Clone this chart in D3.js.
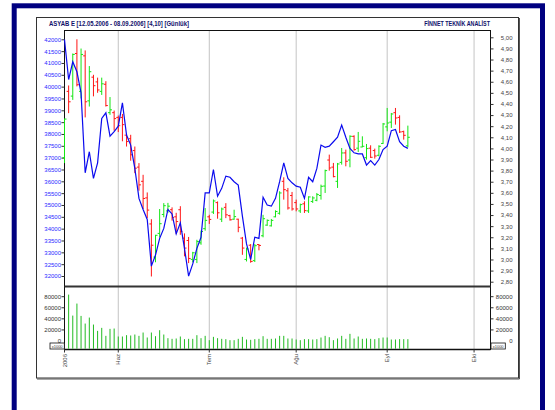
<!DOCTYPE html>
<html>
<head>
<meta charset="utf-8">
<script src="https://cdn.jsdelivr.net/npm/d3@7"></script>
<style>
  body { margin: 0; background: #fff; }
  svg { display: block; font-family: "Liberation Sans", Arial, sans-serif; }
</style>
</head>
<body>
<svg id="chart"></svg>
<script>
// daily bars, 12.05.2006 - 08.09.2006 (trading days only)
const highs = [38650, 40050, 41400, 42000, 41610, 41530, 40870, 40500, 40380, 40380,
  40230, 39560, 38990, 38780, 38845, 38000, 37965, 37470, 36770, 36275,
  35530, 34400, 33740, 34830, 35080, 35090, 34900, 34670, 34950, 33800,
  33650, 33020, 33530, 33920, 34870, 34585, 35233, 35150, 34890, 35078,
  34585, 34800, 34420, 33650, 33200, 33350, 33350, 33350, 34585, 34390,
  34410, 34775, 35580, 36170, 35720, 35551, 35227, 35058, 35157, 35368,
  35368, 35508, 35860, 36494, 37128, 36776, 36776, 37409, 37339, 37944,
  37944, 38085, 37902, 37578, 37522, 37381, 37522, 38465, 39099, 38888,
  39099, 38789, 38141, 38353];
const lows = [36770, 38880, 39440, 40010, 39500, 38700, 39160, 39590, 39740, 39650,
  39160, 38810, 38140, 38080, 37691, 37470, 36870, 36345, 35605, 34830,
  34450, 31980, 32580, 33630, 34480, 34670, 34340, 33775, 33740, 32830,
  32545, 32580, 32545, 33320, 33915, 34200, 34620, 34420, 34280, 34445,
  34340, 34375, 33850, 32895, 32615, 32560, 32590, 33085, 33635, 34120,
  34090, 34480, 34593, 35227, 34805, 34762, 34734, 34664, 34664, 34664,
  35086, 35157, 35227, 35508, 36452, 36170, 35720, 36705, 36635, 36593,
  37297, 37240, 37437, 36916, 36987, 36959, 37057, 37578, 38113, 38254,
  38395, 38043, 37761, 37437];
const opens = [37000, 39800, 39600, 41400, 39800, 41300, 39400, 40400, 40200, 39800,
  40100, 38900, 38900, 38700, 38700, 37950, 37800, 37300, 36600, 36000,
  35300, 34200, 32800, 33800, 34600, 34750, 34800, 34500, 34800, 33600,
  33500, 32700, 32700, 33400, 34000, 34500, 34700, 35100, 34400, 34900,
  34550, 34400, 34400, 33600, 32700, 33300, 32650, 33330, 33700, 34150,
  34120, 34500, 34650, 36000, 35600, 35400, 35100, 34750, 35050, 34750,
  35150, 35200, 35400, 35800, 36900, 36600, 36000, 36800, 37200, 36900,
  37900, 37400, 37450, 37000, 37400, 37300, 37100, 37600, 38300, 38500,
  38900, 38700, 38100, 37500];
const closes = [38630, 39360, 41360, 40080, 41360, 39360, 40630, 40040, 39860, 40120,
  39200, 39020, 38650, 38350, 38395, 37680, 37120, 36555, 35850, 35275,
  34785, 33300, 33720, 34210, 34970, 34950, 34465, 34300, 33880, 33180,
  32740, 32980, 33460, 33880, 34350, 34390, 35170, 34670, 34830, 34585,
  34375, 34510, 34057, 33180, 33140, 32615, 33280, 33290, 34420, 34350,
  34350, 34725, 35508, 35649, 34875, 34833, 34833, 35016, 34762, 35340,
  35297, 35438, 35790, 36452, 36564, 36198, 36733, 37198, 36846, 37902,
  37339, 37691, 37480, 37381, 37015, 37071, 37480, 38423, 38465, 38845,
  38676, 38085, 37944, 37860];
// blue line, read on the right-hand scale
const ratio = [4.98, 4.62, 4.78, 4.69, 4.50, 3.78, 3.97, 3.73, 3.87, 4.27,
  4.32, 4.11, 4.15, 4.20, 4.41, 4.12, 4.03, 3.82, 3.55, 3.45,
  3.36, 2.94, 3.04, 3.19, 3.28, 3.45, 3.41, 3.23, 3.33, 3.10,
  2.85, 2.96, 3.10, 3.20, 3.60, 3.60, 3.81, 3.57, 3.64, 3.75,
  3.74, 3.70, 3.67, 3.39, 3.14, 3.00, 3.20, 3.19, 3.56, 3.49,
  3.48, 3.55, 3.70, 3.87, 3.73, 3.69, 3.66, 3.65, 3.55, 3.74,
  3.70, 3.82, 4.03, 4.01, 4.02, 4.06, 4.10, 4.21, 4.10, 4.00,
  3.96, 3.95, 3.95, 3.85, 3.89, 3.85, 3.90, 3.99, 4.02, 4.16,
  4.17, 4.06, 4.02, 4.00];
// volume in thousands (first day hidden behind the axis)
const volumes = [null, 82900, 45000, 66700, 44400, 30600, 41400, 28800, 17400, 22800,
  8400, 21000, 21600, 7200, 7200, 9600, 9000, 10800, 8400, 14400,
  5400, 14400, 7800, 18600, 10800, 4200, 3000, 3600, 7200, 2400,
  3000, 3000, 9600, 4200, 8400, 600, 6600, 4200, 3000, 2400,
  600, 600, 3000, 6600, 1800, 1200, 2400, 3000, 7800, 3000,
  3000, 3600, 8400, 8400, 3600, 3600, 1800, 600, 2400, 2400,
  1800, 2400, 5400, 8400, 6000, 600, 3600, 8400, 3000, 12000,
  3600, 7200, 3000, 3600, 3000, 2400, 4200, 5400, 5400, 1800,
  1800, 2400, 2400, 2400];

const priceTicks = [32000, 32500, 33000, 33500, 34000, 34500, 35000, 35500, 36000, 36500,
  37000, 37500, 38000, 38500, 39000, 39500, 40000, 40500, 41000, 41500, 42000];
const ratioTicks = [2.8, 2.9, 3.0, 3.1, 3.2, 3.3, 3.4, 3.5, 3.6, 3.7, 3.8, 3.9,
  4.0, 4.1, 4.2, 4.3, 4.4, 4.5, 4.6, 4.7, 4.8, 4.9, 5.0];
const volumeTicks = [0, 20000, 40000, 60000, 80000];
const monthLabels = ["2006", "Haz", "Tem", "Ağu", "Eyl", "Eki"];
const monthDays = [0, 13, 35, 56, 78, 99];

const titleText = "ASYAB E [12.05.2006 - 08.09.2006]  [4,10]  [Günlük]";
const brandText = "FİNNET TEKNİK ANALİST";

const W = 555, H = 410;
const plot = { left: 64.5, right: 490.5, top: 30.5, priceBottom: 286.5, volBottom: 349.5 };

const svg = d3.select("#chart").attr("width", W).attr("height", H);

// outer navy frame + inner chart box
svg.append("rect").attr("x", 14.2).attr("y", 5.8).attr("width", 528.3).attr("height", 440)
  .attr("fill", "none").attr("stroke", "#000080").attr("stroke-width", 5);
svg.append("rect").attr("x", 36.5).attr("y", 17.5).attr("width", 482).attr("height", 360.5)
  .attr("fill", "#fff").attr("stroke", "#333").attr("stroke-width", 1);
svg.append("path").attr("d", "M519.5,18V379H37").attr("fill", "none")
  .attr("stroke", "#555").attr("stroke-width", 1);

svg.append("text").attr("x", 49).attr("y", 26).attr("font-size", 6.5).attr("font-weight", "bold")
  .attr("fill", "#10106a").attr("textLength", 140).attr("lengthAdjust", "spacingAndGlyphs")
  .text(titleText);
svg.append("text").attr("x", 424.3).attr("y", 26).attr("font-size", 6.5).attr("font-weight", "bold")
  .attr("fill", "#10106a").attr("textLength", 65.7).attr("lengthAdjust", "spacingAndGlyphs")
  .text(brandText);

// scales
const x = d3.scaleLinear().domain([0, 83]).range([64.5, 64.5 + 83 * 4.137]);
const yP = d3.scaleLinear().domain([32000, 42000]).range([276, 39.3]);
const yR = d3.scaleLinear().domain([2.8, 5.0]).range([281.7, 37.3]);
const yV = d3.scaleLinear().domain([0, 80000]).range([340.5, 296.2]);

// vertical month grid
const grid = svg.append("g");
monthDays.forEach((d, i) => {
  if (i === 0) return;
  grid.append("line").attr("x1", x(d)).attr("x2", x(d))
    .attr("y1", plot.top).attr("y2", plot.volBottom)
    .attr("stroke", "#c4c4c4").attr("stroke-width", 1);
});

// panel borders
const frame = svg.append("g").attr("fill", "none");
frame.append("rect").attr("x", plot.left).attr("y", plot.top)
  .attr("width", plot.right - plot.left).attr("height", plot.volBottom - plot.top)
  .attr("stroke", "#111").attr("stroke-width", 1);
frame.append("line").attr("x1", plot.left).attr("x2", plot.right)
  .attr("y1", plot.priceBottom).attr("y2", plot.priceBottom)
  .attr("stroke", "#333").attr("stroke-width", 2);
frame.append("line").attr("x1", plot.left).attr("x2", plot.right)
  .attr("y1", plot.volBottom).attr("y2", plot.volBottom)
  .attr("stroke", "#111").attr("stroke-width", 1.5);

// axes
const styleAxis = (g, color) => {
  g.select(".domain").remove();
  g.selectAll(".tick line").attr("stroke", "#333");
  g.selectAll(".tick text").attr("fill", color).attr("font-size", 6)
    .attr("font-family", "Liberation Sans, Arial, sans-serif");
};

svg.append("g").attr("transform", `translate(${plot.left},0)`)
  .call(d3.axisLeft(yP).tickValues(priceTicks).tickSize(3).tickPadding(0.5).tickFormat(d3.format("d")))
  .call((g) => styleAxis(g, "#2a2aff"));

svg.append("g").attr("transform", `translate(${plot.right},0)`)
  .call(d3.axisRight(yR).tickValues(ratioTicks).tickSize(3)
    .tickFormat((d) => d.toFixed(2).replace(".", ",")))
  .call((g) => styleAxis(g, "#444"))
  .call((g) => g.selectAll(".tick text").attr("text-anchor", "end").attr("x", 22));

svg.append("g").attr("transform", `translate(${plot.left},0)`)
  .call(d3.axisLeft(yV).tickValues(volumeTicks).tickSize(3).tickPadding(0.5).tickFormat(d3.format("d")))
  .call((g) => styleAxis(g, "#333"))
  .call((g) => g.selectAll(".tick").filter((d) => d === 0).select("line").remove());

svg.append("g").attr("transform", `translate(${plot.right},0)`)
  .call(d3.axisRight(yV).tickValues(volumeTicks).tickSize(3).tickFormat(d3.format("d")))
  .call((g) => styleAxis(g, "#333"))
  .call((g) => g.selectAll(".tick text").attr("text-anchor", "end").attr("x", 22))
  .call((g) => g.selectAll(".tick").filter((d) => d === 0).select("line").remove());

// x1000 boxes
[[50, 343], [491, 343]].forEach(([bx, by]) => {
  svg.append("rect").attr("x", bx).attr("y", by).attr("width", 14.3).attr("height", 6)
    .attr("fill", "#fff").attr("stroke", "#111").attr("stroke-width", 0.8);
  svg.append("text").attr("x", bx + 7.15).attr("y", by + 4.5).attr("text-anchor", "middle")
    .attr("font-size", 4).attr("fill", "#333").text("x1000");
});

// month labels below the volume panel
const xLab = svg.append("g");
monthDays.forEach((d, i) => {
  xLab.append("line").attr("x1", x(d)).attr("x2", x(d)).attr("y1", plot.volBottom)
    .attr("y2", plot.volBottom + 3).attr("stroke", "#333");
  xLab.append("text")
    .attr("transform", `translate(${x(d)},354) rotate(-90)`)
    .attr("text-anchor", "end").attr("dy", "0.35em")
    .attr("font-size", 6).attr("fill", "#444").text(monthLabels[i]);
});

// volume bars
svg.append("clipPath").attr("id", "volClip").append("rect")
  .attr("x", plot.left + 0.8).attr("y", plot.priceBottom + 1)
  .attr("width", plot.right - plot.left - 1.6).attr("height", plot.volBottom - plot.priceBottom - 1.8);
svg.append("g").attr("clip-path", "url(#volClip)")
  .selectAll("line")
  .data(volumes.map((v, i) => ({ v, i })).filter((d) => d.v != null))
  .join("line")
  .attr("x1", (d) => x(d.i)).attr("x2", (d) => x(d.i))
  .attr("y1", plot.volBottom).attr("y2", (d) => yV(d.v))
  .attr("stroke", "#22bb22").attr("stroke-width", 1);

// OHLC bars
const bars = highs.map((h, i) => ({ i, h, l: lows[i], o: opens[i], c: closes[i] }));
const barG = svg.append("g").selectAll("g").data(bars).join("g")
  .attr("stroke", (d) => (d.c >= d.o ? "#14e614" : "#ff1414"))
  .attr("stroke-width", 1);
barG.append("line").attr("x1", (d) => x(d.i)).attr("x2", (d) => x(d.i))
  .attr("y1", (d) => yP(d.h)).attr("y2", (d) => yP(d.l));
barG.append("line").attr("x1", (d) => x(d.i) - 2).attr("x2", (d) => x(d.i))
  .attr("y1", (d) => yP(d.o)).attr("y2", (d) => yP(d.o));
barG.append("line").attr("x1", (d) => x(d.i)).attr("x2", (d) => x(d.i) + 2)
  .attr("y1", (d) => yP(d.c)).attr("y2", (d) => yP(d.c));

// blue line on the right scale
svg.append("path").datum(ratio)
  .attr("d", d3.line().x((d, i) => x(i)).y((d) => yR(d)))
  .attr("fill", "none").attr("stroke", "#0a0aee").attr("stroke-width", 1.2);
</script>
</body>
</html>
